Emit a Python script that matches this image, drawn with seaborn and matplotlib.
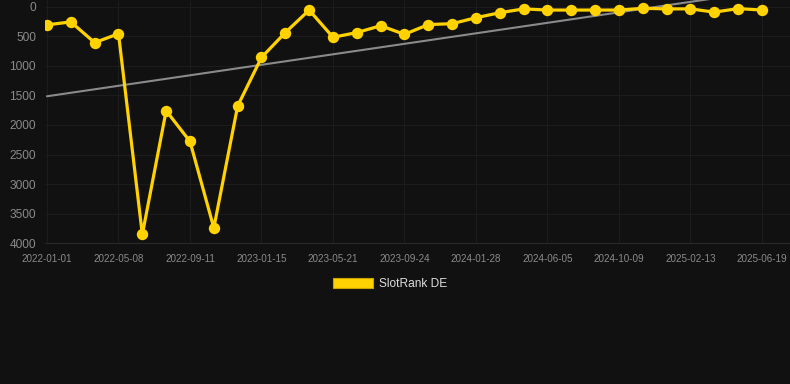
import numpy as np
import pandas as pd
import matplotlib
matplotlib.use("Agg")
import matplotlib.pyplot as plt
from matplotlib.patches import Patch
import seaborn as sns

# ---- data ----
tick_labels = ["2022-01-01", "2022-05-08", "2022-09-11", "2023-01-15", "2023-05-21",
               "2023-09-24", "2024-01-28", "2024-06-05", "2024-10-09", "2025-02-13",
               "2025-06-19"]
rank_values = [310, 260, 610, 460, 3850, 1760, 2280, 3740, 1680, 860,
               440, 60, 520, 440, 325, 470, 305, 290, 189, 105,
               40, 60, 60, 60, 60, 30, 40, 40, 95, 35, 60]
series_name = "SlotRank DE"

BG = "#111111"
YELLOW = "#FFD200"

sns.set_theme(style="dark")
plt.rcParams['font.family'] = ['Liberation Sans', 'DejaVu Sans']

idx = np.arange(len(rank_values))
df = pd.DataFrame({"idx": idx, "rank": rank_values})

fig = plt.figure(figsize=(7.9, 3.84), dpi=100, facecolor=BG)
ax = fig.add_axes([45/790, 140.7/384, 1 - 45/790, 1 - 140.7/384])
ax.set_facecolor(BG)

# trend line (linear regression on the data)
coef = np.polyfit(idx, rank_values, 1)
trend = np.polyval(coef, idx)
ax.plot(idx, trend, color="#8a8a8a", lw=1.5, zorder=2)

sns.lineplot(data=df, x="idx", y="rank", ax=ax, color=YELLOW, lw=2.3,
             marker="o", markersize=8.2, markeredgewidth=0, zorder=3, legend=False)

ax.set_xlim(-2/23.83, 30 + 28/23.83)
ax.set_ylim(4000, -110)
ax.set_yticks([0, 500, 1000, 1500, 2000, 2500, 3000, 3500, 4000])
ax.set_xticks(idx[::3])
ax.set_xticklabels(tick_labels)

ax.grid(True, color="#1c1c1c", lw=0.8)
ax.set_axisbelow(True)
for s in ["top", "right", "left"]:
    ax.spines[s].set_visible(False)
ax.spines["bottom"].set_color("#292929")
ax.spines["bottom"].set_linewidth(0.8)

ax.tick_params(axis="y", length=0, pad=6.5, labelsize=8.6, labelcolor="#8a8a8a")
ax.tick_params(axis="x", length=0, pad=8, labelsize=7.1, labelcolor="#8a8a8a")
ax.set_xlabel("")
ax.set_ylabel("")

handle = Patch(facecolor=YELLOW, edgecolor="#c9a400", lw=0.8)
fig.legend([handle], [series_name], loc="center", bbox_to_anchor=(390/790, 1 - 284/384),
           frameon=False, fontsize=8.6, labelcolor="#dddddd",
           handlelength=3.4, handleheight=0.93, handletextpad=0.5)

fig.savefig("out.png", dpi=100, facecolor=BG)
